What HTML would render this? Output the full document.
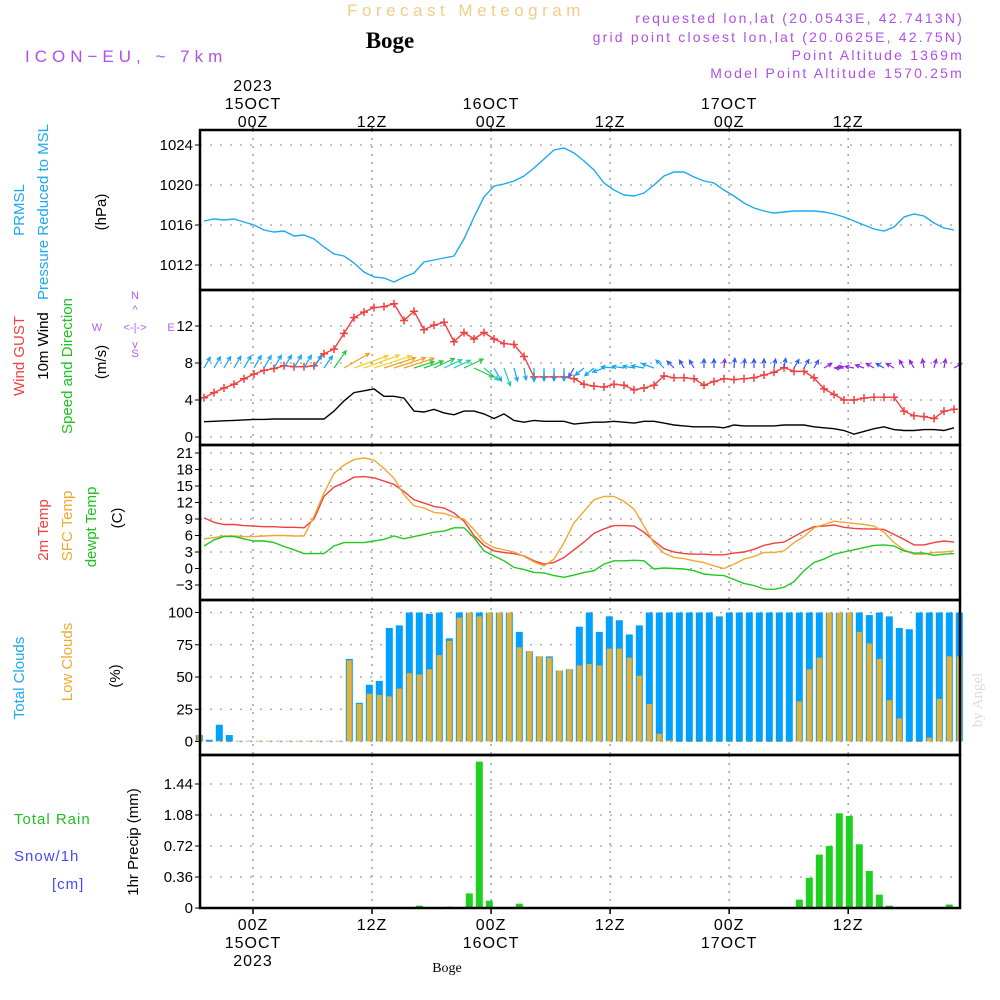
<!DOCTYPE html>
<html><head><meta charset="utf-8"><title>Forecast Meteogram Boge</title>
<style>
html,body{margin:0;padding:0;background:#fff;width:1000px;height:1000px;overflow:hidden}
svg{display:block;font-family:"Liberation Sans","DejaVu Sans",sans-serif}
</style></head>
<body>
<svg id="chart" width="1000" height="1000" viewBox="0 0 1000 1000" xmlns="http://www.w3.org/2000/svg">
  <g id="header">
    <text x="466" y="16" text-anchor="middle" font-size="17" fill="#f2cc88" letter-spacing="4.5">Forecast Meteogram</text>
    <text x="390" y="48" text-anchor="middle" font-size="23" font-weight="bold" font-family="Liberation Serif,serif" fill="#000">Boge</text>
    <text x="25" y="62" font-size="17" fill="#b050e8" letter-spacing="5">ICON−EU, ~ 7km</text>
    <g font-size="14" fill="#b050e8" text-anchor="end" letter-spacing="2.2">
      <text x="964" y="23">requested lon,lat (20.0543E, 42.7413N)</text>
      <text x="964" y="42">grid point closest lon,lat (20.0625E, 42.75N)</text>
      <text x="964" y="60">Point Altitude 1369m</text>
      <text x="964" y="78">Model Point Altitude 1570.25m</text>
    </g>
  </g>
  <g id="labels" font-size="15">
    <text transform="translate(24,210) rotate(-90)" text-anchor="middle" fill="#1ea8f0">PRMSL</text>
    <text transform="translate(48,212) rotate(-90)" text-anchor="middle" fill="#1ea8f0">Pressure Reduced to MSL</text>
    <text transform="translate(106,212) rotate(-90)" text-anchor="middle" fill="#000">(hPa)</text>
    <text transform="translate(24,356) rotate(-90)" text-anchor="middle" fill="#f04040">Wind GUST</text>
    <text transform="translate(48,346) rotate(-90)" text-anchor="middle" fill="#000">10m Wind</text>
    <text transform="translate(72,366) rotate(-90)" text-anchor="middle" fill="#20c020">Speed and Direction</text>
    <text transform="translate(106,362) rotate(-90)" text-anchor="middle" fill="#000">(m/s)</text>
    <g fill="#b060f0" stroke="none" font-size="11">
      <text x="135" y="299" text-anchor="middle">N</text>
      <text x="135" y="357" text-anchor="middle">S</text>
      <text x="97" y="331" text-anchor="middle">W</text>
      <text x="171" y="331" text-anchor="middle">E</text>
      <text x="135" y="331" text-anchor="middle" font-size="11">&lt;-|-&gt;</text>
      <text x="135" y="313" text-anchor="middle">^</text>
      <text x="135" y="348" text-anchor="middle">v</text>
    </g>
    <text transform="translate(48,530) rotate(-90)" text-anchor="middle" fill="#f04040">2m Temp</text>
    <text transform="translate(72,526) rotate(-90)" text-anchor="middle" fill="#f0a830">SFC Temp</text>
    <text transform="translate(96,527) rotate(-90)" text-anchor="middle" fill="#20c020">dewpt Temp</text>
    <text transform="translate(122,518) rotate(-90)" text-anchor="middle" fill="#000">(C)</text>
    <text transform="translate(24,678) rotate(-90)" text-anchor="middle" fill="#1ea8f0">Total Clouds</text>
    <text transform="translate(72,662) rotate(-90)" text-anchor="middle" fill="#f0a830">Low Clouds</text>
    <text transform="translate(120,676) rotate(-90)" text-anchor="middle" fill="#000">(%)</text>
    <text x="14" y="824" fill="#20c020" letter-spacing="1">Total  Rain</text>
    <text x="14" y="861" fill="#4848f8" letter-spacing="1">Snow/1h</text>
    <text x="52" y="889" fill="#4848f8" letter-spacing="1">[cm]</text>
    <text transform="translate(138,842) rotate(-90)" text-anchor="middle" fill="#000">1hr Precip (mm)</text>
    <text transform="translate(982,700) rotate(-90)" text-anchor="middle" fill="#dcdcdc" font-family="Liberation Serif,serif" font-size="15">by Angel</text>
    <text x="447" y="972" text-anchor="middle" fill="#000" font-family="Liberation Serif,serif" font-size="14">Boge</text>
  </g>
  <g id="grid"></g>
  <g id="marks"></g>
  <g id="frames"></g>
  <g id="ticks" font-size="15" fill="#000"></g>
</svg>
<script>
// ---------- data ----------
const hours = [];
for (let h = -5; h <= 70; h++) hours.push(h);
const pressure = [1016.4,1016.6,1016.5,1016.6,1016.3,1016.0,1015.5,1015.3,1015.4,1014.9,1015.0,1014.6,1013.8,1013.1,1012.9,1012.2,1011.3,1010.8,1010.7,1010.3,1010.8,1011.2,1012.3,1012.5,1012.7,1012.9,1014.6,1016.8,1018.8,1019.9,1020.1,1020.4,1020.9,1021.7,1022.6,1023.5,1023.7,1023.2,1022.4,1021.5,1020.2,1019.5,1019.0,1018.9,1019.2,1020.0,1020.9,1021.3,1021.3,1020.8,1020.4,1020.2,1019.5,1018.9,1018.2,1017.7,1017.4,1017.2,1017.3,1017.4,1017.4,1017.4,1017.3,1017.1,1016.8,1016.4,1016.0,1015.6,1015.4,1015.8,1016.8,1017.1,1016.9,1016.2,1015.7,1015.5];
const gust = [4.25,4.8,5.3,5.7,6.3,6.8,7.2,7.4,7.7,7.6,7.6,7.7,9.0,9.5,11.2,12.9,13.5,14.0,14.1,14.4,12.6,13.6,11.6,12.1,12.4,10.3,11.3,10.6,11.3,10.6,10.1,10.0,8.7,6.5,6.5,6.5,6.5,6.3,5.7,5.5,5.4,5.7,5.6,5.1,5.3,5.6,6.6,6.4,6.4,6.3,5.6,6.0,6.3,6.2,6.3,6.4,6.7,7.0,7.5,7.1,7.1,6.4,5.2,4.6,4.0,4.0,4.2,4.3,4.3,4.3,2.8,2.3,2.2,2.0,2.8,3.0];
const windSpeed = [1.65,1.7,1.75,1.8,1.85,1.9,1.9,1.95,1.95,1.95,1.95,1.95,1.95,2.8,3.9,4.8,5.0,5.2,4.4,4.4,4.2,2.8,2.7,3.0,2.6,2.4,2.8,2.8,2.5,2.0,2.5,1.8,1.6,1.8,1.7,1.7,1.7,1.4,1.5,1.6,1.6,1.7,1.6,1.5,1.7,1.7,1.5,1.3,1.2,1.1,1.1,1.1,1.0,1.3,1.2,1.2,1.2,1.2,1.3,1.3,1.3,1.1,1.0,0.9,0.7,0.3,0.6,0.9,1.1,0.8,0.7,0.7,0.8,0.8,0.7,1.0];
const windDir = [60,60,60,60,60,60,60,60,60,60,60,60,55,55,30,20,20,18,18,18,18,18,20,25,25,25,25,-25,-40,-60,-70,-75,-80,-90,-90,-90,-90,-120,-140,220,200,175,172,170,170,160,135,135,120,120,90,90,85,85,85,90,90,80,80,60,60,60,30,10,180,170,160,150,150,150,120,120,100,75,80,30];
const temp2m = [9.2,8.4,8.0,8.0,7.8,7.7,7.6,7.6,7.5,7.5,7.4,9.0,13.1,14.8,15.6,16.6,16.7,16.5,15.9,15.3,14.0,12.5,11.9,11.3,11.0,10.1,8.6,6.0,4.2,3.2,2.9,2.7,2.3,1.4,0.8,1.1,2.0,3.4,4.8,6.4,7.2,7.8,7.8,7.7,6.6,5.0,3.6,3.0,2.7,2.6,2.6,2.5,2.5,2.8,3.0,3.5,4.2,4.6,4.8,5.8,6.8,7.6,7.7,7.9,7.5,7.3,7.2,7.2,7.1,6.2,5.3,4.3,4.3,4.7,5.0,4.8];
const sfcTemp = [5.4,5.6,5.9,5.9,5.8,5.8,5.9,6.0,6.0,5.9,5.9,9.5,13.7,17.3,18.8,19.8,20.1,19.7,18.2,16.4,13.4,11.4,11.0,10.2,10.0,9.4,9.0,7.1,4.8,3.8,3.4,3.0,2.2,1.2,0.5,1.7,4.7,8.3,10.4,12.5,13.1,13.1,12.2,10.8,7.7,4.6,2.8,2.0,1.8,1.4,1.1,0.5,0.0,0.8,1.7,2.2,2.9,2.9,3.2,4.7,5.8,7.4,8.0,8.6,8.4,8.2,8.0,7.7,6.6,4.7,3.4,2.6,2.6,2.9,3.0,3.2];
const dewpt = [4.1,5.2,5.8,5.8,5.4,5.0,5.0,4.7,4.0,3.4,2.7,2.7,2.7,4.1,4.7,4.7,4.7,5.0,5.3,5.9,5.4,5.8,6.2,6.6,6.8,7.4,7.4,5.6,3.2,2.3,1.4,0.2,-0.2,-0.7,-0.8,-1.3,-1.6,-1.2,-0.7,-0.4,0.8,1.4,1.4,1.5,1.4,-0.1,0.1,0.0,-0.1,-0.4,-1.0,-1.2,-1.3,-2.0,-2.7,-3.1,-3.7,-3.8,-3.4,-2.4,-0.4,1.1,1.7,2.6,3.0,3.4,3.8,4.2,4.3,4.1,3.2,2.8,2.8,2.4,2.6,2.7];
const totalClouds = [5,1.3,13,5,0.5,0.5,0.5,0.5,0.5,0.5,0.5,0.5,0.5,0.5,0.5,64,30,44,47,88,90,100,100,99,100,80,100,100,100,100,100,100,85,70,66,66,55,56,89,100,85,97,94,83,90,100,100,100,100,100,100,100,97,100,100,100,100,100,100,100,100,100,100,100,100,100,100,98,100,97,88,87,100,100,100,100,100];
const lowClouds = [5,0,0.5,0,0.5,0.5,0.5,0.5,0.5,0.5,0.5,0.5,0.5,0.5,0.5,63,29,37,36,35,41,53,52,56,67,78,96,100,97,100,100,100,73,70,66,65,55,56,59,60,59,72,72,65,51,29,6,1,0,0,0,0,0,0,0,0,0,0,0,0,31,56,65,100,100,100,85,76,64,32,18,0,0,3,33,66,66];
const precip = [0,0,0,0,0,0,0,0,0,0,0,0,0,0,0,0,0,0,0,0,0,0,0.027,0,0,0.015,0,0.17,1.70,0.085,0,0,0.05,0,0,0,0,0,0,0,0,0,0,0,0,0,0,0,0,0,0,0,0,0,0,0,0,0,0,0,0.097,0.35,0.62,0.72,1.10,1.07,0.74,0.43,0.155,0.027,0,0,0,0,0,0.04,0];
const pressTicks = [1012,1016,1020,1024];
const windTicks = [0,4,8,12];
const tempTicks = [-3,0,3,6,9,12,15,18,21];
const cloudTicks = [0,25,50,75,100];
const precipTicks = [0,0.36,0.72,1.08,1.44];
const timeTicks = [0,12,24,36,48,60];
const timeLabels = ["00Z","12Z","00Z","12Z","00Z","12Z"];
const dateLabels = ["15OCT","","16OCT","","17OCT",""];

// ---------- scales ----------
const X0 = 200, X1 = 960;
const xOf = h => 253 + h * 9.92;
const xPt = h => 254 + h * 10;
const xBar = k => 199.3 + 10 * k;
const lin = (v0, y0, v1, y1) => v => y0 + (v - v0) * (y1 - y0) / (v1 - v0);
const yP = lin(1024, 145, 1012, 265);
const yW = lin(0, 437, 12, 326);
const yT = lin(21, 453, -3, 585);
const yC = lin(0, 741.5, 100, 612.5);
const yR = lin(0, 908, 1.44, 784);
const panels = [[130,290],[290,445],[445,600],[600,755],[755,908]];

const NS = "http://www.w3.org/2000/svg";
function mk(tag, attrs, parent) {
  const e = document.createElementNS(NS, tag);
  for (const k in attrs) e.setAttribute(k, attrs[k]);
  parent.appendChild(e);
  return e;
}
const grid = document.getElementById('grid');
const marks = document.getElementById('marks');
const frames = document.getElementById('frames');
const ticks = document.getElementById('ticks');

// ---------- grid ----------
function hgrid(vals, ys, name) {
  vals.forEach(v => {
    const l = mk('line', {x1: X0, x2: X1, y1: ys(v), y2: ys(v), stroke: '#a0a0a0', 'stroke-width': 1.2, 'stroke-dasharray': '2,8'}, grid);
    
    
    const t = mk('line', {x1: X0 - 5, x2: X0, y1: ys(v), y2: ys(v), stroke: '#000', 'stroke-width': 1}, frames);
    
    
    const tx = mk('text', {x: X0 - 7, y: ys(v) + 5, 'text-anchor': 'end'}, ticks);
    
    
    tx.textContent = (v < 0 ? '−' + Math.abs(v) : String(v));
  });
}
hgrid(pressTicks, yP, 'pressure');
hgrid(windTicks, yW, 'wind');
hgrid(tempTicks, yT, 'temp');
hgrid(cloudTicks, yC, 'cloud');
hgrid(precipTicks, yR, 'precip');
timeTicks.forEach((h, i) => {
  panels.forEach(p => {
    const l = mk('line', {x1: xOf(h), x2: xOf(h), y1: p[0], y2: p[1], stroke: '#a0a0a0', 'stroke-width': 1.5, 'stroke-dasharray': '2,6'}, grid);
    
    
  });
  const tt = mk('line', {x1: xOf(h), x2: xOf(h), y1: 126, y2: 131, stroke: '#000'}, frames);
  
  
  const bt = mk('line', {x1: xOf(h), x2: xOf(h), y1: 908, y2: 914, stroke: '#000', 'stroke-width': 1.5}, frames);
  
  
  const a = mk('text', {x: xOf(h), y: 127, 'text-anchor': 'middle', 'font-size': 16, 'letter-spacing': 1}, ticks);
  
  
  a.textContent = timeLabels[i];
  const b = mk('text', {x: xOf(h), y: 930, 'text-anchor': 'middle', 'font-size': 16, 'letter-spacing': 1}, ticks);
  
  
  b.textContent = timeLabels[i];
  if (dateLabels[i]) {
    const c = mk('text', {x: xOf(h), y: 109, 'text-anchor': 'middle', 'font-size': 16, 'letter-spacing': 1}, ticks);
    
    
    c.textContent = dateLabels[i];
    const d = mk('text', {x: xOf(h), y: 948, 'text-anchor': 'middle', 'font-size': 16, 'letter-spacing': 1}, ticks);
    
    
    d.textContent = dateLabels[i];
  }
});
const y1 = mk('text', {x: xOf(0), y: 91, 'text-anchor': 'middle', 'font-size': 16, 'letter-spacing': 1}, ticks);


y1.textContent = '2023';
const y2 = mk('text', {x: xOf(0), y: 966, 'text-anchor': 'middle', 'font-size': 16, 'letter-spacing': 1}, ticks);


y2.textContent = '2023';

// ---------- lines ----------
function line(vals, ys, color, name, w) {
  const pts = vals.map((v, i) => xPt(hours[i]).toFixed(1) + ',' + ys(v).toFixed(1)).join(' ');
  const p = mk('polyline', {points: pts, fill: 'none', stroke: color, 'stroke-width': w || 1.4}, marks);
  
  
}
line(pressure, yP, '#1ea8f0', 'pressure-line');
line(windSpeed, yW, '#000', 'wind-speed-line');
line(gust, yW, '#f04040', 'gust-line');
gust.forEach((v, i) => {
  const x = xPt(hours[i]), y = yW(v);
  const g = mk('path', {d: `M${x-4},${y}H${x+4}M${x},${y-4}V${y+4}`, stroke: '#f04040', 'stroke-width': 1.5}, marks);
  
  
});
line(temp2m, yT, '#f04040', 'temp2m-line');
line(sfcTemp, yT, '#f0a830', 'sfc-temp-line');
line(dewpt, yT, '#20c820', 'dewpt-line');

// wind arrows
function windColor(s) {
  if (s < 1.05) return '#9028e0';
  if (s < 1.45) return '#3058f8';
  if (s < 2.2) return '#12a4f8';
  if (s < 2.65) return '#18d0a8';
  if (s < 3.2) return '#20c840';
  if (s < 4.5) return '#f0a020';
  return '#f0d030';
}
windSpeed.forEach((s, i) => {
  const x = xPt(hours[i]), y = 368;
  const L = 7.5 * Math.max(s, 1.2);
  const a = windDir[i] * Math.PI / 180;
  const ex = x + L * Math.cos(a), ey = y - L * Math.sin(a);
  const hl = 4.5;
  const h1 = a + Math.PI - 0.45, h2 = a + Math.PI + 0.45;
  const d = `M${x},${y}L${ex},${ey}M${ex + hl*Math.cos(h1)},${ey - hl*Math.sin(h1)}L${ex},${ey}L${ex + hl*Math.cos(h2)},${ey - hl*Math.sin(h2)}`;
  const ar = mk('path', {d: d, fill: 'none', stroke: windColor(s), 'stroke-width': 1.2}, marks);
  
  
});

// clouds
totalClouds.forEach((v, k) => {
  const x = xBar(k);
  const r = mk('rect', {x: x - 3.5, y: yC(v), width: 7, height: Math.max(0.5, yC(0) - yC(v)), fill: '#00a0ff'}, marks);
  
  
  const lv = lowClouds[k];
  const r2 = mk('rect', {x: x - 2.5, y: yC(lv), width: 5, height: Math.max(0.5, yC(0) - yC(lv)), fill: '#e8b030'}, marks);
  
  
});
// precipitation
precip.forEach((v, k) => {
  if (v <= 0) return;
  const x = xBar(k);
  const r = mk('rect', {x: x - 3.5, y: yR(v), width: 7, height: yR(0) - yR(v), fill: '#20d020'}, marks);
  
  
});
const bl = mk('line', {x1: X0, x2: X1, y1: 908, y2: 908, stroke: '#000', 'stroke-width': 1, 'stroke-dasharray': '6,3'}, marks);



// frames
panels.forEach(p => {
  const r = mk('rect', {x: X0, y: p[0], width: X1 - X0, height: p[1] - p[0], fill: 'none', stroke: '#000', 'stroke-width': 2.5}, frames);
  
  
});
</script>
</body></html>
